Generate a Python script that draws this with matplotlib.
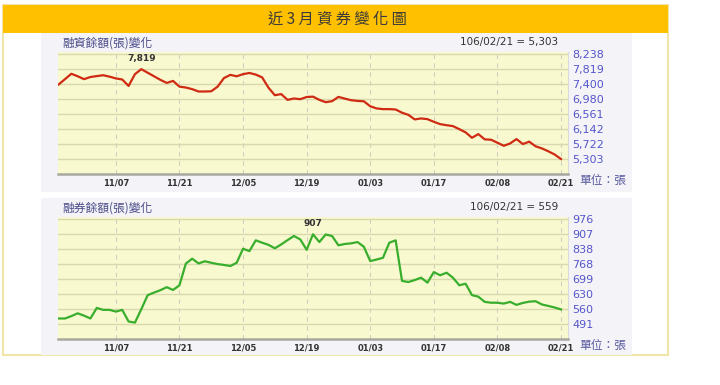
import numpy as np
import matplotlib.pyplot as plt
from matplotlib.patches import Rectangle

plt.rcParams['font.family'] = ['DejaVu Sans', 'Noto Sans CJK TC']
CJK = ['Noto Sans CJK TC', 'DejaVu Sans']

# 融資餘額 (張), one value per trading day
margin = [7390, 7540, 7690, 7620, 7540, 7600, 7625, 7650, 7610, 7560,
          7530, 7350, 7680, 7819, 7720, 7620, 7520, 7434, 7490, 7330,
          7305, 7260, 7194, 7194, 7200, 7330, 7570, 7660, 7620, 7680,
          7713, 7667, 7590, 7300, 7090, 7121, 6960, 6998, 6979, 7040,
          7050, 6960, 6895, 6923, 7043, 6995, 6950, 6930, 6920, 6780,
          6720, 6700, 6700, 6690, 6600, 6540, 6412, 6440, 6420, 6345,
          6280, 6250, 6225, 6140, 6050, 5898, 6001, 5853, 5844, 5760,
          5674, 5740, 5862, 5722, 5790, 5660, 5600, 5520, 5430, 5303]

# 融券餘額 (張)
short = [517, 517, 528, 541, 530, 517, 566, 557, 557, 549,
         557, 503, 498, 560, 625, 637, 648, 662, 649, 671,
         771, 794, 772, 782, 775, 769, 765, 760, 775, 840,
         829, 879, 868, 858, 842, 860, 880, 899, 883, 835,
         907, 871, 906, 899, 856, 862, 865, 871, 849, 783,
         790, 798, 868, 879, 691, 686, 695, 706, 683, 732,
         717, 729, 706, 671, 678, 625, 618, 594, 590, 590,
         586, 594, 580, 589, 595, 597, 582, 575, 568, 559]

date_labels = ['11/07', '11/21', '12/05', '12/19', '01/03', '01/17', '02/08', '02/21']
date_idx = [9, 19, 29, 39, 49, 59, 69, 79]

margin_ticks = [5303, 5722, 6142, 6561, 6980, 7400, 7819, 8238]
short_ticks = [491, 560, 630, 699, 768, 838, 907, 976]

W, H = 720, 385
fig = plt.figure(figsize=(W / 100, H / 100), dpi=100)


def box(x0, y0, x1, y1):
    # pixel box -> figure fraction [left, bottom, width, height]
    return [x0 / W, 1 - y1 / H, (x1 - x0) / W, (y1 - y0) / H]


def rect(x0, y0, x1, y1, **kw):
    l, b, w, h = box(x0, y0, x1, y1)
    fig.patches.append(Rectangle((l, b), w, h, transform=fig.transFigure,
                                 zorder=-10, **kw))


# frame, header and the two grey panels
rect(3, 5, 668, 355, facecolor='white', edgecolor='#EFE6A8', linewidth=1.5)
rect(3, 5, 668, 33, facecolor='#FFC000', edgecolor='none')
rect(41, 33, 632, 192, facecolor='#F4F4F8', edgecolor='none')
rect(41, 198, 632, 355, facecolor='#F4F4F8', edgecolor='none')

fig.text(337 / W, 1 - 19 / H, '近 3 月 資 券 變 化 圖', family=CJK, fontsize=11,
         color='#3A3A3A', ha='center', va='center')


def panel(top, values, ticks, ylim, color, title, last_text, peak_text):
    ax = fig.add_axes(box(58, top, 568, top + 122))
    ax.set_facecolor('#F9F9D0')
    x = np.arange(len(values))
    ax.plot(x, values, color=color, linewidth=1.6, zorder=3)
    ax.set_xlim(-0.1, 80.1)
    ax.set_ylim(*ylim)

    ax.set_yticks(ticks)
    ax.set_yticklabels([f'{t:,}' for t in ticks])
    ax.yaxis.tick_right()
    ax.tick_params(axis='y', length=0, pad=3, labelsize=8, labelcolor='#5555CC')
    ax.set_xticks(date_idx)
    ax.set_xticklabels(date_labels, fontweight='bold')
    ax.tick_params(axis='x', length=0, pad=3, labelsize=6, labelcolor='#333333')

    ax.grid(axis='y', color='#D9D8AE', linewidth=1, linestyle='-')
    ax.grid(axis='x', color='#CFCFC0', linewidth=0.8, linestyle=(0, (4, 4)))
    ax.set_axisbelow(True)
    for s in ['top', 'left']:
        ax.spines[s].set_visible(False)
    ax.spines['right'].set_color('#DADADA')
    ax.spines['bottom'].set_color('#A8A8A0')
    ax.spines['bottom'].set_linewidth(1.8)

    i = int(np.argmax(values))
    ax.annotate(peak_text, (i, values[i]), xytext=(0, 8), textcoords='offset points',
                ha='center', va='center', fontsize=6.5, fontweight='bold', color='#333333')

    fig.text(62 / W, 1 - (top - 9) / H, title, family=CJK, fontsize=8.5,
             color='#4A4A8A', va='center')
    fig.text(558 / W, 1 - (top - 10) / H, last_text, fontsize=7.5,
             color='#333333', ha='right', va='center')
    fig.text(579 / W, 1 - (top + 128) / H, '單位：張', family=CJK, fontsize=8.5,
             color='#5A5AA0', va='center')


panel(52, margin, margin_ticks, (4884, 8300), '#CF2A12',
      '融資餘額(張)變化', '106/02/21 = 5,303', '7,819')
panel(217, short, short_ticks, (422, 987), '#38AE2C',
      '融券餘額(張)變化', '106/02/21 = 559', '907')

fig.savefig('out.png', dpi=100)
